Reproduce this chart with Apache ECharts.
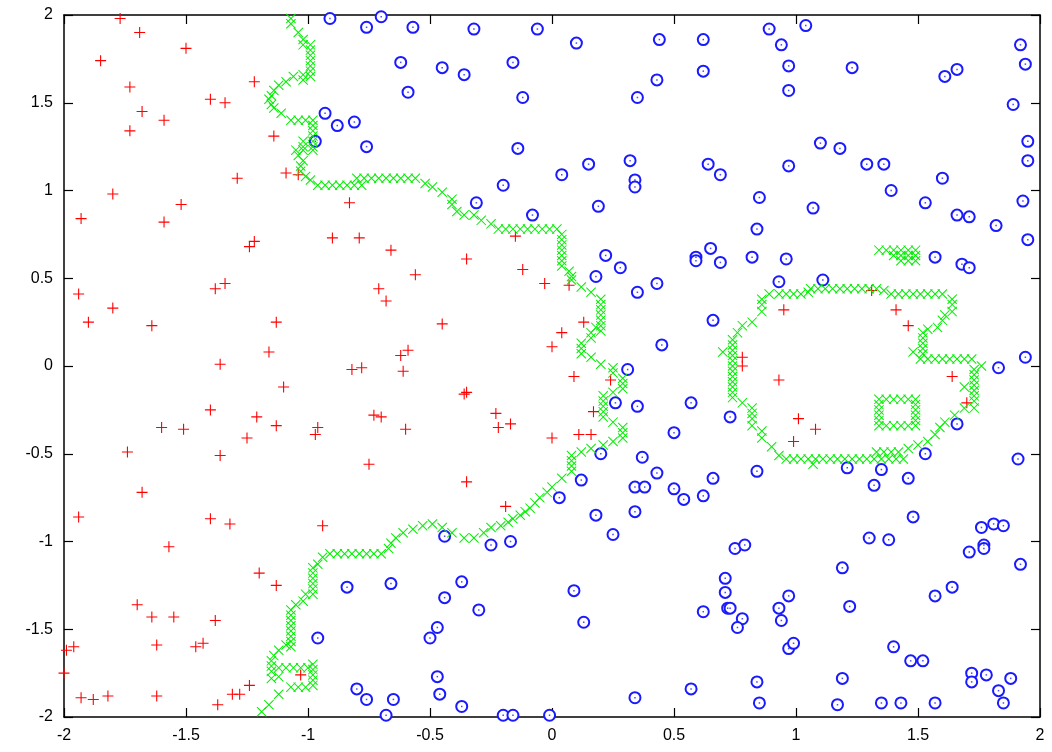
<!DOCTYPE html>
<html>
<head>
<meta charset="utf-8">
<script src="https://cdn.jsdelivr.net/npm/echarts@6/dist/echarts.min.js"></script>
<style>
  html, body { margin: 0; padding: 0; background: #fff; }
  #chart { width: 1052px; height: 752px; }
</style>
</head>
<body>
<div id="chart"></div>
<script>
// class 1 samples (red +)
const classA = [
  [-1.77,1.98],[-1.69,1.90],[-1.50,1.81],[-1.85,1.74],[-1.73,1.59],[-1.40,1.52],[-1.34,1.50],[-1.22,1.62],
  [-1.68,1.45],[-1.59,1.40],[-1.73,1.34],[-1.14,1.31],[-1.09,1.10],[-1.04,1.09],[-1.29,1.07],[-1.80,0.98],
  [-1.52,0.92],[-1.93,0.84],[-1.59,0.82],[-1.22,0.71],[-1.24,0.68],
  [-1.94,0.41],[-1.80,0.33],[-1.90,0.25],[-1.64,0.23],[-1.38,0.44],[-1.34,0.47],[-1.13,0.25],[-1.16,0.08],
  [-1.36,0.01],[-1.10,-0.12],[-1.40,-0.25],[-1.21,-0.29],[-1.13,-0.34],[-1.60,-0.35],[-1.51,-0.36],
  [-1.25,-0.41],[-1.74,-0.49],[-1.36,-0.51],
  [-0.66,0.66],[-0.35,0.61],[-0.12,0.55],[-0.03,0.47],[-0.56,0.52],[-0.71,0.44],[-0.68,0.37],[-0.45,0.24],
  [-0.59,0.09],[-0.62,0.06],[-0.82,-0.02],[-0.78,-0.01],[-0.61,-0.03],[-0.35,-0.15],[-0.36,-0.16],
  [-0.73,-0.28],[-0.70,-0.29],[-0.23,-0.27],[-0.17,-0.33],[-0.22,-0.35],[-0.96,-0.35],[-0.97,-0.39],
  [-0.60,-0.36],[-0.75,-0.56],[-0.35,-0.66],
  [-0.83,0.93],[-0.90,0.73],[-0.79,0.73],[-0.15,0.74],
  [0.07,0.46],[0.13,0.25],[0.04,0.19],[0.00,0.11],[0.09,-0.06],[0.24,-0.08],[0.17,-0.26],[0.00,-0.41],
  [0.11,-0.39],[0.16,-0.39],[0.78,0.05],[0.78,0.00],[0.93,-0.08],[0.95,0.32],
  [1.31,0.43],[1.41,0.32],[1.46,0.23],[1.64,-0.06],[1.70,-0.21],[1.01,-0.30],[1.08,-0.36],[0.99,-0.43],
  [-1.68,-0.72],[-1.94,-0.86],[-1.40,-0.87],[-1.32,-0.90],[-1.57,-1.03],[-1.20,-1.18],[-1.13,-1.25],
  [-1.70,-1.36],[-1.64,-1.43],[-1.55,-1.43],[-1.38,-1.45],[-1.99,-1.62],[-1.96,-1.60],[-1.62,-1.59],
  [-1.46,-1.60],[-1.43,-1.58],[-2.00,-1.75],[-1.93,-1.89],[-1.88,-1.90],[-1.82,-1.88],[-1.62,-1.88],
  [-1.31,-1.87],[-1.28,-1.87],[-1.24,-1.82],[-1.37,-1.93],[-1.03,-1.76],
  [-0.94,-0.91],[-0.19,-0.80]
];

// class 2 samples (blue circles)
const classB = [
  [-0.91,1.98],[-0.70,1.99],[-0.76,1.93],[-0.57,1.93],[-0.32,1.92],[-0.06,1.92],[-0.62,1.73],[-0.45,1.70],
  [-0.36,1.66],[-0.16,1.73],[-0.59,1.56],[-0.12,1.53],[-0.93,1.44],[-0.88,1.37],[-0.81,1.39],[-0.76,1.25],
  [-0.97,1.28],[-0.14,1.24],[-0.20,1.03],[-0.31,0.93],[-0.08,0.86],
  [0.10,1.84],[0.44,1.86],[0.62,1.86],[0.89,1.92],[0.94,1.83],[0.43,1.63],[0.35,1.53],[0.62,1.68],
  [0.97,1.71],[0.97,1.57],[0.15,1.15],[0.32,1.17],[0.64,1.15],[0.69,1.09],[0.04,1.09],[0.34,1.06],
  [0.34,1.02],[0.19,0.91],[0.97,1.14],[0.85,0.96],[0.84,0.78],[0.65,0.67],
  [1.04,1.94],[1.23,1.70],[1.92,1.83],[1.94,1.72],[1.61,1.65],[1.66,1.69],[1.89,1.49],[1.95,1.28],
  [1.95,1.17],[1.10,1.27],[1.18,1.24],[1.29,1.15],[1.36,1.15],[1.60,1.07],[1.39,1.00],[1.07,0.90],
  [1.53,0.93],[1.66,0.86],[1.71,0.85],[1.82,0.80],[1.93,0.94],[1.95,0.72],
  [0.22,0.63],[0.28,0.56],[0.18,0.51],[0.35,0.42],[0.43,0.47],[0.59,0.62],[0.59,0.60],[0.69,0.59],
  [0.82,0.62],[0.96,0.61],[0.93,0.48],[0.66,0.26],[0.45,0.12],[0.31,-0.02],[0.26,-0.21],[0.35,-0.23],
  [0.57,-0.21],[0.73,-0.29],[0.50,-0.38],[0.20,-0.50],[0.37,-0.52],[0.43,-0.61],[0.66,-0.64],[0.84,-0.60],
  [0.12,-0.65],[0.34,-0.69],[0.38,-0.69],[0.50,-0.70],
  [0.03,-0.75],[0.54,-0.76],[0.62,-0.74],[0.18,-0.85],[0.34,-0.83],[0.25,-0.96],[0.75,-1.04],[0.79,-1.02],
  [0.71,-1.21],[0.71,-1.29],[0.72,-1.38],[0.73,-1.38],[0.09,-1.28],[0.13,-1.46],[0.62,-1.40],[0.78,-1.44],
  [0.76,-1.49],[0.93,-1.38],[0.94,-1.45],[0.97,-1.31],[0.97,-1.61],[0.99,-1.58],[0.84,-1.80],[0.85,-1.92],
  [0.57,-1.84],[0.34,-1.89],[-0.01,-1.99],
  [-0.44,-0.97],[-0.25,-1.02],[-0.17,-1.00],[-0.84,-1.26],[-0.66,-1.24],[-0.37,-1.23],[-0.44,-1.32],
  [-0.30,-1.39],[-0.96,-1.55],[-0.47,-1.49],[-0.50,-1.55],[-0.47,-1.77],[-0.80,-1.84],[-0.76,-1.90],
  [-0.65,-1.90],[-0.46,-1.87],[-0.37,-1.94],[-0.68,-1.99],[-0.20,-1.99],[-0.16,-1.99],
  [1.11,0.49],[1.57,0.62],[1.68,0.58],[1.71,0.56],[1.94,0.05],[1.83,-0.01],[1.66,-0.33],[1.53,-0.50],
  [1.91,-0.53],[1.21,-0.58],[1.35,-0.59],[1.46,-0.64],[1.32,-0.68],
  [1.48,-0.86],[1.30,-0.98],[1.38,-0.99],[1.19,-1.15],[1.22,-1.37],[1.40,-1.60],[1.47,-1.68],[1.52,-1.68],
  [1.19,-1.78],[1.17,-1.93],[1.35,-1.92],[1.43,-1.92],[1.57,-1.92],[1.57,-1.31],[1.64,-1.26],[1.71,-1.06],
  [1.77,-1.02],[1.77,-1.04],[1.76,-0.92],[1.81,-0.90],[1.85,-0.91],[1.92,-1.13],[1.72,-1.75],[1.72,-1.80],
  [1.78,-1.76],[1.88,-1.78],[1.83,-1.85],[1.85,-1.92]
];

// decision boundary grid cells (green x)
const boundary = [
  [-1.07,1.98],[-1.07,1.95],[-1.04,1.90],[-1.02,1.86],[-1.02,1.83],[-0.99,1.83],[-0.99,1.80],[-0.99,1.77],
  [-0.99,1.74],[-0.99,1.71],[-0.99,1.68],[-0.99,1.65],[-1.02,1.66],[-1.02,1.63],[-1.06,1.65],[-1.09,1.62],
  [-1.12,1.60],[-1.14,1.57],[-1.15,1.54],[-1.16,1.52],[-1.15,1.49],[-1.14,1.47],[-1.11,1.44],[-1.07,1.40],
  [-1.04,1.40],[-1.01,1.40],[-0.98,1.40],[-0.98,1.37],[-0.98,1.34],[-0.98,1.31],[-0.98,1.28],[-0.98,1.25],
  [-0.98,1.23],[-1.02,1.28],[-1.02,1.25],[-1.02,1.23],[-1.05,1.23],[-1.04,1.20],[-1.02,1.17],[-1.03,1.14],
  [-1.03,1.11],[-1.01,1.08],[-0.99,1.06],
  [-0.96,1.03],[-0.93,1.03],[-0.90,1.03],[-0.87,1.03],[-0.84,1.03],[-0.81,1.03],[-0.78,1.03],
  [-0.80,1.07],[-0.77,1.07],[-0.74,1.07],[-0.71,1.07],[-0.68,1.07],[-0.65,1.07],[-0.62,1.07],[-0.59,1.07],[-0.56,1.07],
  [-0.52,1.04],[-0.49,1.02],[-0.45,0.99],[-0.41,0.95],[-0.41,0.92],[-0.39,0.88],[-0.36,0.86],[-0.32,0.86],
  [-0.29,0.83],[-0.25,0.81],
  [-0.22,0.78],[-0.19,0.78],[-0.16,0.78],[-0.13,0.78],[-0.10,0.78],[-0.07,0.78],[-0.04,0.78],[-0.01,0.78],[0.02,0.78],
  [0.04,0.75],[0.04,0.72],[0.04,0.69],[0.04,0.66],[0.04,0.63],[0.04,0.60],[0.04,0.57],[0.07,0.54],[0.08,0.51],
  [0.08,0.49],[0.12,0.45],[0.16,0.42],[0.20,0.38],[0.20,0.35],[0.20,0.32],[0.20,0.29],[0.20,0.26],[0.20,0.23],
  [0.20,0.20],[0.18,0.22],[0.16,0.19],[0.16,0.16],[0.12,0.13],[0.12,0.10],[0.12,0.07],[0.16,0.05],[0.20,0.01],
  [0.25,-0.01],[0.25,-0.04],[0.29,-0.07],[0.29,-0.10],[0.29,-0.13],[0.25,-0.15],[0.21,-0.17],[0.21,-0.20],
  [0.21,-0.23],[0.21,-0.26],[0.21,-0.29],[0.25,-0.32],[0.29,-0.35],[0.29,-0.38],[0.29,-0.41],[0.25,-0.43],
  [0.21,-0.45],[0.16,-0.47],[0.12,-0.49],[0.08,-0.51],[0.08,-0.54],[0.08,-0.57],[0.08,-0.60],[0.04,-0.64],
  [0.00,-0.69],[-0.02,-0.72],[-0.05,-0.75],[-0.07,-0.78],[-0.09,-0.81],[-0.11,-0.83],[-0.13,-0.85],[-0.16,-0.87],
  [-0.18,-0.89],[-0.21,-0.91],[-0.25,-0.92],[-0.28,-0.95],[-0.32,-0.98],[-0.36,-0.98],[-0.41,-0.95],[-0.45,-0.92],
  [-0.49,-0.90],[-0.53,-0.91],[-0.57,-0.93],[-0.61,-0.95],[-0.64,-0.98],[-0.66,-1.01],[-0.67,-1.04],
  [-0.70,-1.07],[-0.73,-1.07],[-0.76,-1.07],[-0.79,-1.07],[-0.82,-1.07],[-0.85,-1.07],[-0.88,-1.07],[-0.91,-1.07],
  [-0.94,-1.09],[-0.96,-1.13],[-0.98,-1.15],[-0.98,-1.18],[-0.98,-1.21],[-0.98,-1.24],[-0.98,-1.27],[-0.98,-1.30],
  [-1.01,-1.30],[-1.02,-1.34],[-1.05,-1.36],[-1.07,-1.39],[-1.07,-1.42],[-1.07,-1.45],[-1.07,-1.48],[-1.07,-1.51],
  [-1.07,-1.54],[-1.07,-1.57],[-1.07,-1.60],[-1.09,-1.59],[-1.12,-1.62],[-1.14,-1.65],[-1.15,-1.68],[-1.15,-1.71],
  [-1.15,-1.74],[-1.12,-1.72],[-1.09,-1.72],[-1.06,-1.72],[-1.03,-1.72],[-1.00,-1.72],[-0.98,-1.70],[-0.98,-1.73],
  [-0.98,-1.76],[-0.98,-1.79],[-0.98,-1.82],[-1.01,-1.83],[-1.04,-1.83],[-1.07,-1.83],[-1.12,-1.77],[-1.15,-1.78],
  [-1.12,-1.87],[-1.16,-1.93],[-1.19,-1.97],
  // G shape
  [0.89,0.41],[0.93,0.41],[0.96,0.41],[0.99,0.41],[1.02,0.41],[1.05,0.42],[1.06,0.44],[1.09,0.44],[1.12,0.44],
  [1.15,0.44],[1.18,0.44],[1.21,0.44],[1.24,0.44],[1.27,0.44],[1.30,0.44],[1.33,0.44],[1.36,0.43],[1.39,0.41],
  [1.42,0.41],[1.45,0.41],[1.48,0.41],[1.51,0.41],[1.54,0.41],[1.57,0.41],[1.60,0.41],
  [1.64,0.38],[1.64,0.35],[1.64,0.31],[1.61,0.29],[1.60,0.26],[1.58,0.22],[1.54,0.21],[1.52,0.19],[1.52,0.16],
  [1.52,0.13],[1.52,0.10],[1.48,0.08],[1.52,0.07],
  [1.51,0.04],[1.54,0.04],[1.57,0.04],[1.60,0.04],[1.63,0.04],[1.66,0.04],[1.69,0.04],[1.72,0.04],[1.76,0.00],
  [1.73,-0.02],[1.73,-0.05],[1.73,-0.08],[1.73,-0.11],[1.73,-0.14],[1.73,-0.17],[1.73,-0.20],[1.73,-0.24],
  [1.69,-0.12],[1.69,-0.24],[1.65,-0.28],[1.61,-0.32],[1.59,-0.35],[1.57,-0.39],[1.54,-0.43],[1.50,-0.45],
  [1.46,-0.47],[1.42,-0.49],[1.39,-0.49],[1.36,-0.49],[1.33,-0.49],
  [1.44,-0.53],[1.41,-0.53],[1.38,-0.53],[1.35,-0.53],[1.32,-0.53],[1.29,-0.53],[1.26,-0.53],[1.23,-0.53],
  [1.20,-0.53],[1.17,-0.53],[1.14,-0.53],[1.11,-0.53],[1.08,-0.53],[1.05,-0.53],[1.02,-0.53],[0.99,-0.53],
  [0.96,-0.53],[0.93,-0.51],[1.07,-0.56],
  [0.90,-0.46],[0.86,-0.41],[0.86,-0.37],[0.82,-0.34],[0.82,-0.30],[0.82,-0.27],[0.82,-0.24],[0.78,-0.21],
  [0.74,-0.18],[0.74,-0.15],[0.74,-0.12],[0.74,-0.09],[0.74,-0.06],[0.74,-0.03],[0.74,0.00],[0.74,0.03],
  [0.74,0.06],[0.74,0.09],[0.74,0.12],[0.70,0.08],[0.74,0.15],[0.76,0.19],[0.78,0.23],[0.82,0.25],[0.86,0.31],
  [0.86,0.35],[0.86,0.38],
  [1.34,-0.19],[1.37,-0.19],[1.40,-0.19],[1.43,-0.19],[1.46,-0.19],[1.49,-0.19],[1.34,-0.22],[1.34,-0.25],
  [1.34,-0.28],[1.34,-0.31],[1.49,-0.22],[1.49,-0.25],[1.49,-0.28],[1.49,-0.31],[1.34,-0.34],[1.37,-0.34],
  [1.40,-0.34],[1.43,-0.34],[1.46,-0.34],[1.49,-0.34],
  [1.34,0.66],[1.37,0.66],[1.40,0.66],[1.43,0.66],[1.46,0.66],[1.49,0.66],[1.40,0.63],[1.43,0.63],[1.46,0.63],
  [1.49,0.63],[1.43,0.60],[1.46,0.60],[1.49,0.60]
];

const axisMin = -2, axisMax = 2, axisStep = 0.5;

const font = { fontFamily: 'Liberation Sans, Arial, sans-serif', fontSize: 16, color: '#000' };

function makeAxis(pos, showLabel) {
  return {
    type: 'value', position: pos, min: axisMin, max: axisMax, interval: axisStep,
    axisLine: { show: true, onZero: false, lineStyle: { color: '#000', width: 1.5 } },
    axisTick: { show: true, inside: true, length: 9, lineStyle: { color: '#000', width: 1.2 } },
    axisLabel: Object.assign({ show: showLabel, margin: 11 }, font),
    splitLine: { show: false }
  };
}

const plusPath = 'path://M0,4.5h10v1h-10z M4.5,0h1v10h-1z';
const crossPath = 'path://M0,0.7L0.7,0L10,9.3L9.3,10Z M9.3,0L10,0.7L0.7,10L0,9.3Z';

const chart = echarts.init(document.getElementById('chart'));
chart.setOption({
  animation: false,
  backgroundColor: '#fff',
  grid: { left: 64, right: 12, top: 15, bottom: 35, show: false },
  xAxis: [makeAxis('bottom', true), makeAxis('top', false)],
  yAxis: [makeAxis('left', true), makeAxis('right', false)],
  series: [
    {
      type: 'scatter', data: classA, symbol: plusPath, symbolSize: 11,
      itemStyle: { color: '#ff0000', opacity: 1 }
    },
    {
      type: 'scatter', data: classB, symbol: 'emptyCircle', symbolSize: 11,
      itemStyle: { color: '#1a1aff', borderWidth: 1.1, opacity: 1 }
    },
    {
      type: 'scatter', data: classB, symbol: 'rect', symbolSize: 1.5,
      itemStyle: { color: '#1a1aff' }
    },
    {
      type: 'scatter', data: boundary, symbol: crossPath, symbolSize: [10, 10],
      itemStyle: { color: '#00ee00', opacity: 1 }
    }
  ]
});
</script>
</body>
</html>
